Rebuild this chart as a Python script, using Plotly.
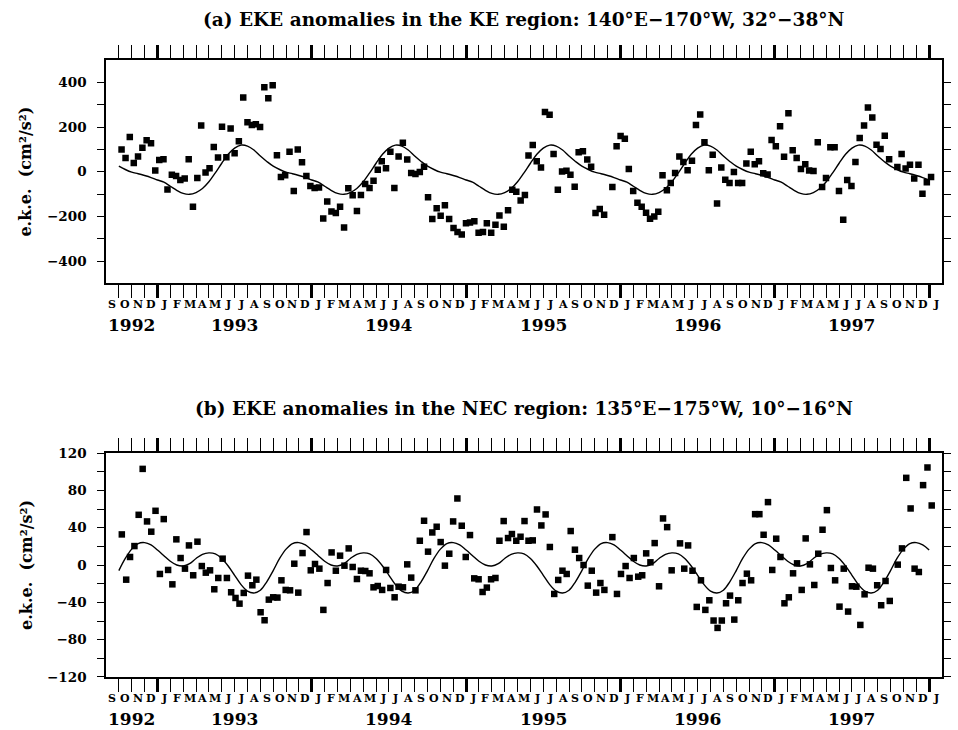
import plotly.graph_objects as go

# ---------------- data (x = months since 1 Sep 1992) ----------------
ke_t = [1.21, 1.52, 1.85, 2.16, 2.49, 2.83, 3.16, 3.50, 3.83, 4.14, 4.47, 4.78, 5.12, 5.45, 5.78,
        6.12, 6.43, 6.76, 7.10, 7.40, 7.74, 8.05, 8.38, 8.71, 9.02, 9.36, 9.69, 10.00, 10.33, 10.67,
        11.00, 11.34, 11.65, 11.98, 12.31, 12.62, 12.96, 13.29, 13.60, 13.93, 14.27, 14.60, 14.91,
        15.24, 15.58, 15.89, 16.22, 16.56, 16.89, 17.20, 17.53, 17.87, 18.20, 18.51, 18.84, 19.18,
        19.51, 19.82, 20.15, 20.49, 20.80, 21.13, 21.44, 21.77, 22.11, 22.42, 22.75, 23.08, 23.42,
        23.73, 24.06, 24.40, 24.73, 25.04, 25.37, 25.71, 26.02, 26.35, 26.68, 27.02, 27.33, 27.66,
        27.99, 28.30, 28.64, 28.97, 29.31, 29.61, 29.95, 30.28, 30.59, 30.93, 31.26, 31.59, 31.90,
        32.24, 32.57, 32.85, 33.18, 33.49, 33.82, 34.13, 34.49, 34.80, 35.13, 35.46, 35.80, 36.11,
        36.44, 36.75, 37.08, 37.42, 37.72, 38.06, 38.39, 38.73, 39.37, 39.70, 40.01, 40.34, 40.65,
        40.99, 41.32, 41.65, 41.99, 42.30, 42.63, 42.94, 43.27, 43.61, 43.91, 44.25, 44.58, 44.89,
        45.22, 45.56, 45.87, 46.20, 46.53, 46.87, 47.17, 47.51, 47.84, 48.15, 48.48, 48.82, 49.15,
        49.46, 49.79, 50.13, 50.44, 50.77, 51.10, 51.44, 51.75, 52.08, 52.41, 52.72, 53.06, 53.39,
        53.70, 54.03, 54.37, 54.67, 55.01, 55.34, 55.68, 55.98, 56.32, 56.65, 56.99, 57.32, 57.63,
        57.96, 58.27, 58.60, 58.94, 59.24, 59.58, 59.91, 60.22, 60.55, 60.89, 61.53, 61.86, 62.17,
        62.51, 62.84, 63.17, 63.48, 63.82, 64.15]
ke_v = [99, 62, 156, 39, 68, 107, 141, 127, 6, 53, 56, -80, -13, -19, -37,
        -30, 56, -157, -28, 207, -3, 16, 111, 64, 201, 65, 194, 83, 136, 332,
        221, 209, 212, 200, 378, 329, 387, 74, -24, -16, 90, -86, 99,
        43, -19, -64, -73, -71, -209, -133, -178, -185, -157, -249, -74, -105,
        -176, -104, -55, -73, -40, 9, 47, 16, 89, -73, 68, 130, 55,
        -6, -10, -1, 22, -114, -212, -163, -197, -150, -212, -252, -270, -281,
        -231, -227, -221, -273, -270, -230, -273, -237, -196, -246, -172, -81, -90,
        -129, -104, 73, 120, 47, 19, 267, 255, 79, -81, 1, 4, -13,
        -67, 87, 92, 55, 22, -185, -167, -193, -68, 114, 160, 148, 12,
        -86, -139, -157, -184, -210, -200, -179, -16, -83, -50, -6, 68, 44,
        7, 49, 209, 256, 132, 7, 76, -142, 19, -36, -50, -1, -50,
        -50, 37, 90, 34, 47, -7, -12, 142, 114, 204, 67, 262, 96,
        62, 12, 33, 6, 3, 132, -68, -28, 110, 110, -86, -215, -37,
        -64, 44, 151, 207, 287, 243, 121, 102, 161, 56, 21, 79, 15,
        31, -30, 31, -99, -47, -24]

nec_t = [1.23, 1.57, 1.87, 2.21, 2.54, 2.85, 3.19, 3.52, 3.85, 4.19, 4.49, 4.83, 5.16, 5.47, 5.80,
         6.14, 6.45, 6.78, 7.11, 7.45, 7.76, 8.09, 8.42, 8.73, 9.07, 9.40, 9.73, 10.07, 10.38, 10.71,
         11.04, 11.38, 11.69, 12.02, 12.33, 12.66, 13.00, 13.33, 13.64, 13.97, 14.31, 14.64, 14.95,
         15.28, 15.59, 15.92, 16.25, 16.59, 16.90, 17.23, 17.54, 17.87, 18.20, 18.54, 18.87, 19.18,
         19.51, 19.82, 20.16, 20.49, 20.80, 21.13, 21.47, 21.78, 22.11, 22.44, 22.75, 23.09, 23.42,
         23.73, 24.06, 24.40, 24.73, 25.04, 25.37, 25.71, 26.02, 26.35, 26.69, 26.99, 27.32, 27.66,
         27.97, 28.30, 28.63, 28.97, 29.28, 29.61, 29.94, 30.28, 30.59, 30.92, 31.26, 31.56, 31.90,
         32.23, 32.54, 32.85, 33.18, 33.51, 33.85, 34.18, 34.51, 34.85, 35.16, 35.49, 35.82, 36.13,
         36.46, 36.79, 37.13, 37.46, 37.77, 38.11, 38.44, 38.75, 39.37, 39.73, 40.04, 40.40, 40.71,
         41.04, 41.38, 41.69, 42.00, 42.33, 42.66, 43.00, 43.31, 43.63, 43.98, 44.63, 44.96, 45.26,
         45.60, 45.93, 46.26, 46.60, 46.91, 47.24, 47.55, 47.88, 48.21, 48.52, 48.85, 49.16, 49.49,
         49.83, 50.16, 50.47, 50.80, 51.13, 51.47, 51.80, 52.11, 52.44, 52.75, 53.09, 53.42, 53.73,
         54.09, 54.40, 54.73, 55.07, 55.38, 55.71, 56.05, 56.36, 56.69, 57.03, 57.36, 57.70, 58.00,
         58.34, 58.65, 58.98, 59.29, 59.63, 59.96, 60.27, 60.61, 60.94, 61.56, 61.89, 62.22, 62.56,
         62.87, 63.20, 63.53, 63.87, 64.20]
nec_v = [32.8, -15.7, 8.6, 20.3, 53.8, 103.0, 46.7, 35.7, 58.1, -9.6, 49.2, -5.3, -20.7, 27.5, 7.5,
         -3.9, 21.0, -11.0, 25.0, -1.1, -8.2, -5.7, -26.0, -13.9, 6.8, -13.9, -29.2, -35.3, -41.4, -29.9,
         -11.4, -21.7, -15.7, -50.6, -59.2, -37.1, -34.6, -34.9, -16.4, -26.7, -27.1, 1.4, -29.6,
         12.8, 35.3, -5.7, 1.1, -3.9, -48.1, -19.3, 13.5, -6.1, 10.0, -0.7, 17.8, -2.1,
         -15.0, -6.1, -6.4, -8.9, -23.9, -22.5, -26.7, -5.3, -24.6, -34.6, -23.2, -23.9, 0.7,
         -13.5, -27.1, 26.0, 47.4, 14.3, 34.9, 41.0, 24.6, -0.7, 12.1, 46.7, 71.3, 42.1,
         8.6, 32.1, -14.3, -15.3, -28.9, -24.2, -15.3, -13.9, 26.0, 47.1, 28.9, 33.2, 26.0,
         30.3, 47.1, 26.0, 26.4, 59.5, 42.4, 54.2, 19.3, -31.0, -16.0, -6.1, -9.6, 36.4,
         16.4, 7.5, 0.0, -22.1, -6.1, -29.6, -19.3, -26.7, 29.9, -31.0, -9.6, -1.1, -13.9,
         7.5, -12.5, -11.0, 12.5, 2.9, 23.5, -22.8, 49.9, 40.6, -5.7, 23.2, -3.9, 21.0,
         -6.1, -44.9, -16.4, -48.1, -37.8, -59.5, -67.4, -59.5, -41.0, -32.8, -58.5, -37.8, -19.3,
         -9.3, -16.4, 54.5, 54.5, 32.4, 67.4, -5.3, 28.2, 8.6, -41.0, -34.6, -8.9, 1.8,
         -26.7, 28.5, 0.7, -21.4, 12.1, 37.8, 58.8, -3.2, -16.4, -44.6, -3.9, -49.9, -22.8,
         -23.2, -64.2, -31.4, -2.9, -3.9, -21.7, -43.1, -17.1, -38.5, 0.4, 17.8, 93.4, 60.6,
         -3.9, -7.5, 85.6, 104.5, 63.8]

# fitted annual + semi-annual curves: one year, half-month steps from 1 Jan
ke_fit_cycle = [-37, -47, -65, -83, -97, -101, -93, -75, -45, -5, 38, 78,
                106, 119, 115, 97, 70, 46, 25, 10, -2, -9, -17, -26]
nec_fit_cycle = [16, 10, 4, 0, -1, 1.5, 7, 11.5, 13, 12, 7, -1,
                 -11, -21, -28, -30, -27, -18, -6, 7, 17, 23, 24, 21.5]
fit_start, fit_end = 1.0, 64.0          # months since 1 Sep 1992 spanned by the curve

month_letters = ["S", "O", "N", "D",
                 "J", "F", "M", "A", "M", "J", "J", "A", "S", "O", "N", "D",
                 "J", "F", "M", "A", "M", "J", "J", "A", "S", "O", "N", "D",
                 "J", "F", "M", "A", "M", "J", "J", "A", "S", "O", "N", "D",
                 "J", "F", "M", "A", "M", "J", "J", "A", "S", "O", "N", "D",
                 "J", "F", "M", "A", "M", "J", "J", "A", "S", "O", "N", "D",
                 "J"]
year_labels = ["1992", "1993", "1994", "1995", "1996", "1997"]
year_pos = [2, 10, 22, 34, 46, 58]
year_starts = [4, 16, 28, 40, 52, 64]

ke_ticks = [-400, -200, 0, 200, 400]
ke_ticktext = ["\u2212400", "\u2212200", "0", "200", "400"]
ke_minor = [-300, -100, 100, 300]
nec_ticks = [-120, -80, -40, 0, 40, 80, 120]
nec_ticktext = ["\u2212120", "\u221280", "\u221240", "0", "40", "80", "120"]
nec_minor = [-100, -60, -20, 20, 60, 100]

titles = ["(a) EKE anomalies in the KE region: 140\u00b0E\u2212170\u00b0W, 32\u00b0\u221238\u00b0N",
          "(b) EKE anomalies in the NEC region: 135\u00b0E\u2212175\u00b0W, 10\u00b0\u221216\u00b0N"]
ytitle = "e.k.e.  (cm\u00b2/s\u00b2)"


def fit_curve(cycle):
    xs, ys = [], []
    t = fit_start
    while t <= fit_end + 1e-9:
        cal = (t - 4) % 12
        xs.append(t)
        ys.append(cycle[int(round(cal * 2)) % 24])
        t += 0.5
    return xs, ys


FONT = "DejaVu Serif"
fig = go.Figure()
for i, (tt, vv, cyc) in enumerate([(ke_t, ke_v, ke_fit_cycle), (nec_t, nec_v, nec_fit_cycle)]):
    xa = "x" if i == 0 else "x2"
    ya = "y" if i == 0 else "y2"
    fig.add_trace(go.Scatter(x=tt, y=vv, mode="markers", xaxis=xa, yaxis=ya,
                             marker=dict(symbol="square", size=6.5, color="black"),
                             showlegend=False))
    fx, fy = fit_curve(cyc)
    fig.add_trace(go.Scatter(x=fx, y=fy, mode="lines", xaxis=xa, yaxis=ya,
                             line=dict(color="black", width=1.4, shape="spline", smoothing=1),
                             showlegend=False))

xcommon = dict(range=[0, 65], showgrid=False, zeroline=False, showline=True, linecolor="black",
               linewidth=1.5, mirror="ticks", ticks="outside", tickvals=year_starts, ticklen=13,
               tickwidth=2.5, tickcolor="black", showticklabels=False,
               minor=dict(tickvals=list(range(1, 65)), ticks="outside", ticklen=13, tickwidth=1,
                          tickcolor="black"))
ycommon = dict(showgrid=False, zeroline=False, showline=True, linecolor="black", linewidth=1.5,
               mirror="ticks", ticks="outside", ticklen=7, tickwidth=1.2, tickcolor="black",
               tickfont=dict(family=FONT, size=13.5, color="black", weight="bold"),
               ticklabelstandoff=8)

dom_a = [0.6378, 1.0]
dom_b = [0.0, 0.363]
fig.update_layout(
    width=958, height=730, margin=dict(l=106, r=7, t=60, b=53),
    paper_bgcolor="white", plot_bgcolor="white",
    xaxis=dict(domain=[0, 1], anchor="y", **xcommon),
    yaxis=dict(domain=dom_a, anchor="x", range=[-500, 500], tickmode="array",
               tickvals=ke_ticks, ticktext=ke_ticktext,
               minor=dict(tickvals=ke_minor, ticks="outside", ticklen=7, tickwidth=1.2,
                          tickcolor="black"), **ycommon),
    xaxis2=dict(domain=[0, 1], anchor="y2", **xcommon),
    yaxis2=dict(domain=dom_b, anchor="x2", range=[-120, 120], tickmode="array",
                tickvals=nec_ticks, ticktext=nec_ticktext,
                minor=dict(tickvals=nec_minor, ticks="outside", ticklen=7, tickwidth=1.2,
                           tickcolor="black"), **ycommon),
)

ann = []
for i in range(2):
    xr = "x" if i == 0 else "x2"
    yd = "y domain" if i == 0 else "y2 domain"
    for k, lab in enumerate(month_letters):
        ann.append(dict(x=k + 0.5, y=0, xref=xr, yref=yd, text=lab, showarrow=False,
                        yanchor="middle", xanchor="center", yshift=-21.5,
                        font=dict(family=FONT, size=11, color="black", weight="bold")))
    for yl, yp in zip(year_labels, year_pos):
        ann.append(dict(x=yp, y=0, xref=xr, yref=yd, text=yl, showarrow=False,
                        yanchor="middle", xanchor="center", yshift=-42,
                        font=dict(family=FONT, size=17, color="black", weight="bold")))
    ann.append(dict(x=0.5, y=1, xref="x domain" if i == 0 else "x2 domain", yref=yd,
                    text=titles[i], showarrow=False, yanchor="middle", xanchor="center",
                    yshift=41 if i == 0 else 45,
                    font=dict(family=FONT, size=18.5, color="black", weight="bold")))
    ann.append(dict(x=-81 / 845, y=0.5, xref="paper", yref=yd, text=ytitle, showarrow=False,
                    textangle=-90, xanchor="center", yanchor="middle",
                    font=dict(family=FONT, size=16, color="black", weight="bold")))
fig.update_layout(annotations=ann)

fig.write_html("out.html")
